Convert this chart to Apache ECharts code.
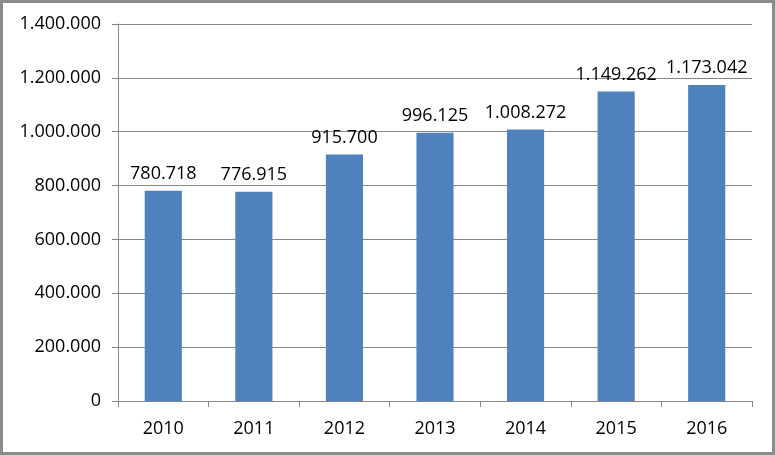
<!DOCTYPE html>
<html><head><meta charset="utf-8">
<script src="https://cdn.jsdelivr.net/npm/echarts@6/dist/echarts.min.js"></script>
<style>html,body{margin:0;padding:0;background:#fff}#c{width:775px;height:455px;box-sizing:border-box;border:3px solid #8c8c8c}</style>
</head><body><div id="c"></div>
<script>
const categories = ['2010','2011','2012','2013','2014','2015','2016'];
const values = [780718, 776915, 915700, 996125, 1008272, 1149262, 1173042];
function fmt(v){return String(v).replace(/\B(?=(\d{3})+(?!\d))/g,'.');}
const chart = echarts.init(document.getElementById('c'), null, {renderer:'canvas'});
const font = 'Open Sans';
chart.setOption({
  animation:false,
  grid:{left:115,right:20,top:21,bottom:51},
  xAxis:{type:'category',data:categories,
    axisLine:{lineStyle:{color:'#868686'}},
    axisTick:{show:true,length:6,lineStyle:{color:'#868686'}},
    axisLabel:{color:'#000',fontFamily:font,fontSize:18,margin:19}},
  yAxis:{type:'value',min:0,max:1400000,interval:200000,
    axisLine:{show:true,lineStyle:{color:'#868686'}},
    axisTick:{show:true,length:6,lineStyle:{color:'#868686'}},
    splitLine:{lineStyle:{color:'#868686'}},
    axisLabel:{color:'#000',fontFamily:font,fontSize:18,margin:17,formatter:fmt}},
  series:[{type:'bar',data:values,barWidth:'41%',itemStyle:{color:'#4F81BD'},
    label:{show:true,position:'top',distance:8,color:'#000',fontFamily:font,fontSize:18,formatter:p=>fmt(p.value)}}]
});
</script></body></html>
